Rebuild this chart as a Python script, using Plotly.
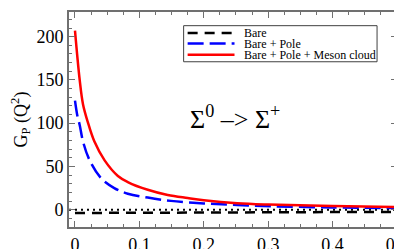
import plotly.graph_objects as go

# Data
x_red = [0, 0.0073, 0.0124, 0.020, 0.030, 0.046, 0.0666, 0.082, 0.113, 0.144, 0.175, 0.2, 0.252, 0.3, 0.4, 0.5]
y_red = [207, 150, 122, 101, 79, 57, 39, 32, 23, 17, 13.5, 11, 7.5, 6, 4.3, 3]

x_blue = [0, 0.0036, 0.0073, 0.0124, 0.0228, 0.041, 0.061, 0.082, 0.113, 0.149, 0.2, 0.252, 0.305, 0.4, 0.5]
y_blue = [126, 109, 98, 79, 57, 36, 25, 18.5, 14, 10.2, 7.3, 5.4, 4, 2.6, 1.9]

x_bare = [0, 0.1, 0.2, 0.3, 0.4, 0.5]
y_bare = [-3.8, -3.5, -3.3, -3.0, -2.8, -2.5]

x_zero = [-0.0093, 0.5]
y_zero = [0, 0]

names = ["Bare", "Bare + Pole", "Bare + Pole + Meson cloud"]
colors = ["black", "#0000ff", "#ff0000"]
dashes = ["10px,7px", "16px,6px", "solid"]

FONT = "Liberation Serif"
AX = "#707070"

fig = go.Figure()
fig.add_trace(go.Scatter(x=x_zero, y=y_zero, mode="lines", showlegend=False,
                         line=dict(color="black", width=2, dash="2px,4px")))
fig.add_trace(go.Scatter(x=x_bare, y=y_bare, mode="lines", name=names[0], showlegend=False,
                         line=dict(color=colors[0], width=2.5, dash=dashes[0])))
fig.add_trace(go.Scatter(x=x_blue, y=y_blue, mode="lines", name=names[1], line_shape="spline",
                         showlegend=False,
                         line=dict(color=colors[1], width=2.5, dash=dashes[1])))
fig.add_trace(go.Scatter(x=x_red, y=y_red, mode="lines", name=names[2], line_shape="spline",
                         showlegend=False,
                         line=dict(color=colors[2], width=2.5, dash=dashes[2])))

# Legend box (drawn manually to match the compact reference legend)
fig.add_shape(type="rect", xref="paper", yref="paper", x0=0.3495, x1=0.9392, y0=0.7686, y1=0.9364,
              line=dict(color="#404040", width=1), fillcolor="white", layer="above")
row_y = [0.9026, 0.8533, 0.8009]
for name, c, d, yy in zip(names, colors, dashes, row_y):
    fig.add_shape(type="line", xref="paper", yref="paper", x0=0.3617, x1=0.5046, y0=yy, y1=yy,
                  line=dict(color=c, width=2.5, dash=d), layer="above")
    fig.add_annotation(x=0.5289, y=yy, xref="paper", yref="paper", xanchor="left", yanchor="middle",
                       showarrow=False, text=name,
                       font=dict(family=FONT, size=12, color="black"))

fig.add_annotation(x=0.249, y=106, xref="x", yref="y", showarrow=False,
                   text="Σ<sup>0</sup> –> Σ<sup>+</sup>",
                   font=dict(family=FONT, size=26, color="black"))

fig.update_layout(
    width=402, height=249,
    margin=dict(l=61, r=12, t=2, b=18),
    paper_bgcolor="white", plot_bgcolor="white",
    font=dict(family=FONT, size=18, color="black"),
    showlegend=False,
    xaxis=dict(range=[-0.0093, 0.5], dtick=0.1, tick0=0,
               showgrid=False, zeroline=False,
               showline=True, linecolor=AX, linewidth=2, mirror="ticks",
               ticks="inside", ticklen=6, tickwidth=1, tickcolor=AX,
               minor=dict(dtick=0.025, ticks="inside", ticklen=3, tickcolor=AX),
               tickfont=dict(family=FONT, size=18)),
    yaxis=dict(range=[-20, 228.5], dtick=50, tick0=0,
               showgrid=False, zeroline=False,
               showline=True, linecolor=AX, linewidth=2, mirror="ticks",
               ticks="inside", ticklen=6, tickwidth=1, tickcolor=AX,
               minor=dict(dtick=10, ticks="inside", ticklen=3, tickcolor=AX),
               tickfont=dict(family=FONT, size=18),
               title=dict(text="G<sub>P</sub> (Q<sup>2</sup>)", standoff=6,
                          font=dict(family=FONT, size=18))),
)

fig.write_html("out.html")
